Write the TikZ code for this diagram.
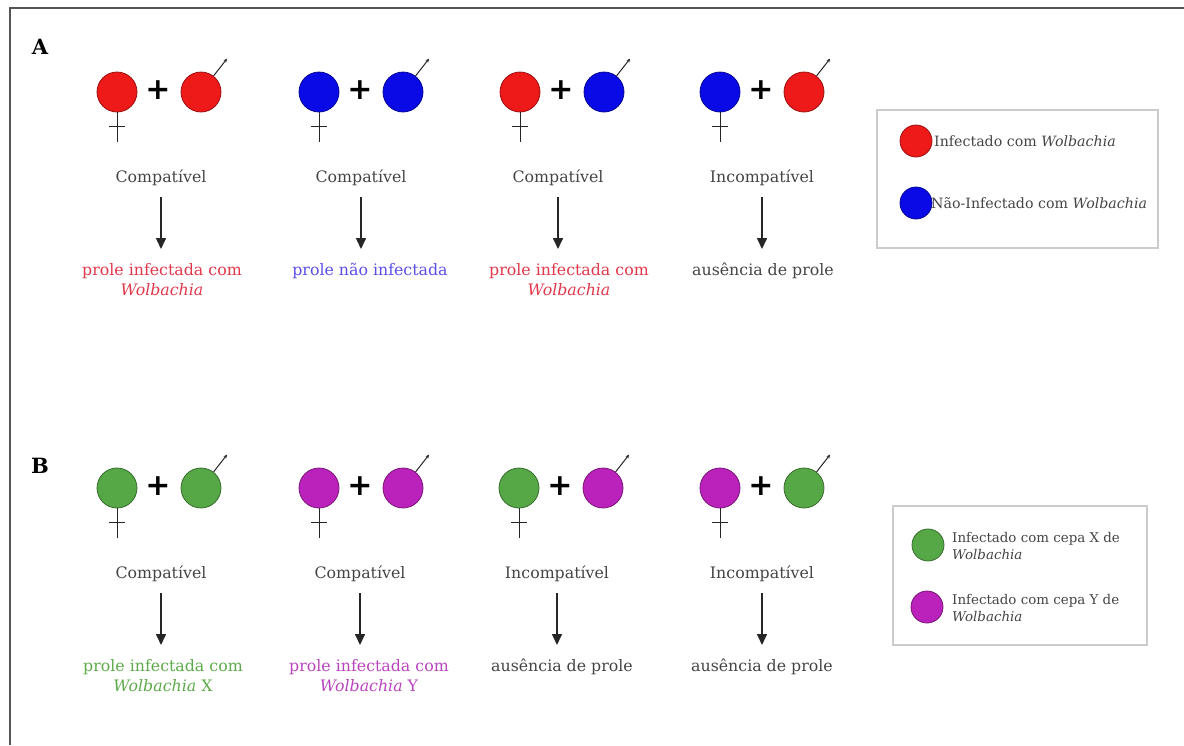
\documentclass[tikz,border=0pt]{standalone}
\usepackage{fontspec}
\setmainfont{DejaVu Serif}
\newfontfamily\plusfont{DejaVu Sans}
\usetikzlibrary{arrows.meta,calc}
\definecolor{cred}{HTML}{EE1A1A}
\definecolor{cblue}{HTML}{0A0AE6}
\definecolor{cgreen}{HTML}{55A845}
\definecolor{cpurple}{HTML}{BB22BB}
\definecolor{tred}{HTML}{E0374A}
\definecolor{tblue}{HTML}{5a4ee8}
\definecolor{tgreen}{HTML}{5DAA4A}
\definecolor{tpurple}{HTML}{B944BE}
\definecolor{tgray}{HTML}{444444}
\definecolor{framec}{HTML}{555555}
\tikzset{
  sexc/.style={circle, draw=#1!65!black, fill=#1, minimum size=40pt, inner sep=0pt, line width=0.8pt},
  legc/.style={circle, draw=#1!65!black, fill=#1, minimum size=32pt, inner sep=0pt, line width=0.8pt},
  plusn/.style={font=\plusfont\bfseries\fontsize{30}{30}\selectfont, inner sep=0pt},
  symb/.style={line width=1pt, black!85},
  lbl/.style={font=\fontsize{15.8}{20}\selectfont, text=tgray, inner sep=2pt},
  res/.style={font=\fontsize{15.8}{20}\selectfont, align=center, inner sep=2pt, anchor=north},
  arr/.style={line width=1.6pt, black!85, -{Triangle[width=10pt,length=11pt]}, shorten <=9pt, shorten >=12pt},
  legbox/.style={draw=black!20, line width=1.2pt, inner sep=0pt},
  legt/.style={anchor=west, text=tgray, inner sep=0pt},
  panel/.style={font=\bfseries\fontsize{21}{21}\selectfont, inner sep=0pt}
}
\newcommand{\matingpair}[5]{%
  \node[sexc=#4] (#1f) at (#2,#3) {};
  \node[plusn] (#1p) at ({#2+41},{#3-2}) {+};
  \node[sexc=#5] (#1m) at ({#2+84},#3) {};
  \draw[symb] (#1f.south) -- ++(0,30) coordinate (#1ft);
  \draw[symb] ($(#1f.south)+(-8,14)$) coordinate (#1cl) -- ++(16,0) coordinate (#1cr);
  \draw[symb,-{Stealth[length=4pt,width=3.5pt]}] (#1m.52) -- ++(-52:22) coordinate (#1mt);
}
\begin{document}
\begin{tikzpicture}[x=1pt,y=-1pt]
\useasboundingbox (0,0) rectangle (1184,745);
\draw[framec, line width=2pt] (1184,8) coordinate (fr1) -- (10,8) coordinate (fr2) -- (10,745) coordinate (fr3);

% Panel A
\node[panel] (pA) at (40,47) {A};
\matingpair{a1}{117}{92}{cred}{cred}
\matingpair{a2}{319}{92}{cblue}{cblue}
\matingpair{a3}{520}{92}{cred}{cblue}
\matingpair{a4}{720}{92}{cblue}{cred}

\node[lbl] (ca1) at (161,178) {Compatível};
\node[lbl] (ca2) at (361,178) {Compatível};
\node[lbl] (ca3) at (558,178) {Compatível};
\node[lbl] (ca4) at (762,178) {Incompatível};

\node[res, text=tred] (ra1) at (162,261) {prole infectada com\\\textit{Wolbachia}};
\node[res, text=tblue] (ra2) at (370,261) {prole não infectada};
\node[res, text=tred] (ra3) at (569,261) {prole infectada com\\\textit{Wolbachia}};
\node[res, text=tgray] (ra4) at (763,261) {ausência de prole};

\foreach \i in {1,...,4}{
  \draw[arr] (ca\i.south) -- (ca\i.south |- ra\i.north);
}

% Legend A
\node[legbox, minimum width=281pt, minimum height=138pt] (legA) at (1017.5,179) {};
\node[legc=cred] (lgr) at (916,141) {};
\node[legt, font=\fontsize{14.2}{16}\selectfont] (lgrt) at (934,141) {Infectado com \textit{Wolbachia}};
\node[legc=cblue] (lgb) at (916,203) {};
\node[legt, font=\fontsize{14.2}{16}\selectfont] (lgbt) at (931,203) {Não-Infectado com \textit{Wolbachia}};

% Panel B
\node[panel] (pB) at (40,466) {B};
\matingpair{b1}{117}{488}{cgreen}{cgreen}
\matingpair{b2}{319}{488}{cpurple}{cpurple}
\matingpair{b3}{519}{488}{cgreen}{cpurple}
\matingpair{b4}{720}{488}{cpurple}{cgreen}

\node[lbl] (cb1) at (161,574) {Compatível};
\node[lbl] (cb2) at (360,574) {Compatível};
\node[lbl] (cb3) at (557,574) {Incompatível};
\node[lbl] (cb4) at (762,574) {Incompatível};

\node[res, text=tgreen] (rb1) at (163,657) {prole infectada com\\\textit{Wolbachia} X};
\node[res, text=tpurple] (rb2) at (369,657) {prole infectada com\\\textit{Wolbachia} Y};
\node[res, text=tgray] (rb3) at (562,657) {ausência de prole};
\node[res, text=tgray] (rb4) at (762,657) {ausência de prole};

\foreach \i in {1,...,4}{
  \draw[arr] (cb\i.south) -- (cb\i.south |- rb\i.north);
}

% Legend B
\node[legbox, minimum width=254pt, minimum height=139pt] (legB) at (1020,575.5) {};
\node[legc=cgreen] (lgg) at (928,545) {};
\node[legt, font=\fontsize{13.4}{17}\selectfont, align=left] (lggt) at (952,546) {Infectado com cepa X de\\\textit{Wolbachia}};
\node[legc=cpurple] (lgp) at (927,607) {};
\node[legt, font=\fontsize{13.4}{17}\selectfont, align=left] (lgpt) at (952,608) {Infectado com cepa Y de\\\textit{Wolbachia}};
\end{tikzpicture}
\end{document}
